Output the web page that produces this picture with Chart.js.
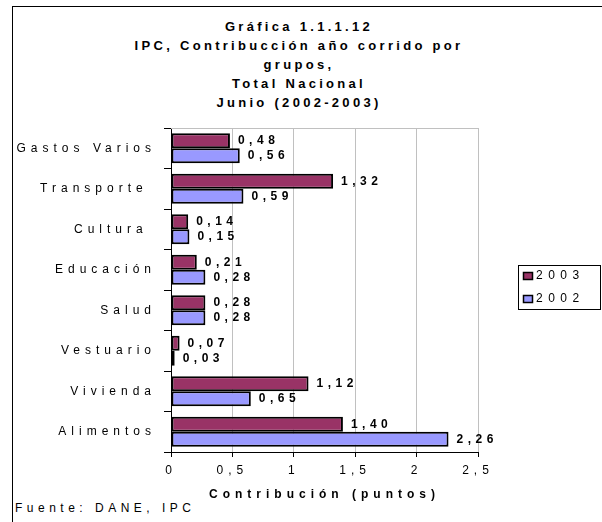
<!DOCTYPE html>
<html>
<head>
<meta charset="utf-8">
<script src="https://cdn.jsdelivr.net/npm/chart.js@4"></script>
<style>
    body { margin: 0; background: #fff; }
    #marco { position: absolute; left: 12px; top: 6px; width: 640px; height: 560px; border: 1px solid #000; }
    #titulo { position: absolute; left: 0; width: 598px; top: 17px; text-align: center; font: bold 13px 'Liberation Sans', Arial, sans-serif; letter-spacing: 3.3px; line-height: 19px; }
    #fuente { position: absolute; left: 15px; top: 501px; font: 12px 'Liberation Sans', Arial, sans-serif; letter-spacing: 4.5px; }
    canvas { position: absolute; left: 0; top: 0; }
</style>
</head>
<body>
<div id="marco"></div>
<div id="titulo">Gráfica 1.1.1.12<br>IPC, Contribucción año corrido por<br>grupos,<br>Total Nacional<br>Junio (2002-2003)</div>
<div id="fuente">Fuente: DANE, IPC</div>
<canvas id="grafica" width="602" height="522"></canvas>
<script>
const grupos = ['Gastos Varios', 'Transporte ', 'Cultura ', 'Educación', 'Salud', 'Vestuario', 'Vivienda', 'Alimentos'];
const valores2003 = [0.48, 1.32, 0.14, 0.21, 0.28, 0.07, 1.12, 1.40];
const valores2002 = [0.56, 0.59, 0.15, 0.28, 0.28, 0.03, 0.65, 2.26];
const series = ['2003', '2002'];
const ejeX = { min: 0, max: 2.5, paso: 0.5 };

const fuente = "'Liberation Sans', Arial, sans-serif";
const coma = v => String(v).replace('.', ',');

// etiquetas, leyenda y borde superior del area
const extras = {
    id: 'extras',
    beforeUpdate(chart) { chart.ctx.letterSpacing = '5px'; },
    beforeDraw(chart) { chart.ctx.letterSpacing = '5px'; },
    beforeDatasetsDraw(chart) {
        const { ctx, chartArea: a } = chart;
        ctx.save();
        ctx.strokeStyle = '#c0c0c0';
        ctx.lineWidth = 1;
        ctx.beginPath();
        ctx.moveTo(a.left, a.top + 0.5);
        ctx.lineTo(a.right, a.top + 0.5);
        ctx.stroke();
        ctx.restore();
    },
    afterDatasetsDraw(chart) {
        const ctx = chart.ctx;
        ctx.save();
        ctx.letterSpacing = '4.5px';
        ctx.font = 'bold 12px ' + fuente;
        ctx.fillStyle = '#000';
        ctx.textBaseline = 'middle';
        ctx.textAlign = 'left';
        chart.data.datasets.forEach((ds, i) => {
            chart.getDatasetMeta(i).data.forEach((bar, j) => {
                ctx.fillText(ds.data[j].toFixed(2).replace('.', ','), bar.x + 8, bar.y);
            });
        });
        ctx.restore();
    },
    afterDraw(chart) {
        const ctx = chart.ctx;
        ctx.save();
        ctx.strokeStyle = '#000';
        ctx.lineWidth = 1;
        ctx.strokeRect(518.5, 265.5, 82, 44);
        ctx.letterSpacing = '5.5px';
        ctx.font = '12px ' + fuente;
        ctx.textBaseline = 'middle';
        chart.data.datasets.forEach((ds, i) => {
            const y = 276 + i * 23;
            ctx.fillStyle = ds.backgroundColor;
            ctx.fillRect(523, y - 4, 10, 8);
            ctx.lineWidth = 1.5;
            ctx.strokeRect(523.5, y - 3.5, 9, 7);
            ctx.fillStyle = '#000';
            ctx.fillText(ds.label, 536, y);
        });
        ctx.restore();
    }
};

new Chart(document.getElementById('grafica'), {
    type: 'bar',
    data: {
        labels: grupos,
        datasets: [
            { label: series[0], data: valores2003, backgroundColor: '#993366', borderColor: '#000', borderWidth: 2, borderSkipped: false },
            { label: series[1], data: valores2002, backgroundColor: '#9999ff', borderColor: '#000', borderWidth: 2, borderSkipped: false }
        ]
    },
    options: {
        indexAxis: 'y',
        responsive: false,
        animation: false,
        layout: { padding: { left: 0, top: 128, right: 124, bottom: 16 } },
        datasets: { bar: { categoryPercentage: 0.74, barPercentage: 1 } },
        plugins: { legend: { display: false }, tooltip: { enabled: false } },
        scales: {
            x: {
                min: ejeX.min, max: ejeX.max,
                ticks: { stepSize: ejeX.paso, callback: v => coma(v), color: '#000', font: { family: fuente, size: 12 }, padding: 6 },
                grid: { color: '#c0c0c0', tickColor: '#000', tickLength: 5 },
                border: { color: '#000' },
                title: { display: true, text: 'Contribución (puntos)', color: '#000', font: { family: fuente, size: 12, weight: 'bold' }, padding: { top: 4, bottom: 4 } },
                afterFit(s) { s.height = 54; }
            },
            y: {
                ticks: { color: '#000', font: { family: fuente, size: 12 }, padding: 8 },
                grid: { drawOnChartArea: false, tickColor: '#000', tickLength: 7 },
                border: { color: '#000' },
                afterFit(s) { s.width = 171; }
            }
        }
    },
    plugins: [extras]
});
</script>
</body>
</html>
